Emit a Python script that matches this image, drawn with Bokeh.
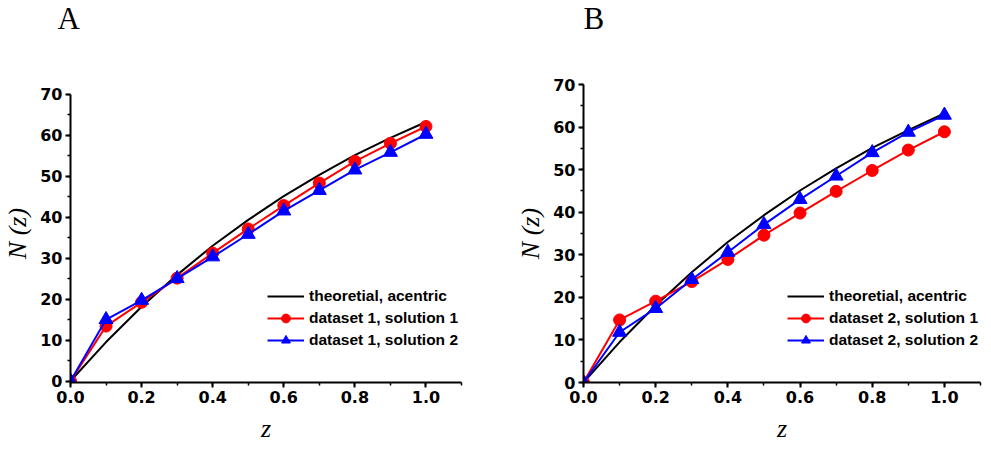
from bokeh.plotting import figure
from bokeh.layouts import row
from bokeh.models import (Range1d, SingleIntervalTicker, PrintfTickFormatter,
                          Legend, LegendItem)
from bokeh.embed import file_html
from bokeh.resources import INLINE

# ---- data ----
z = [0.0, 0.1, 0.2, 0.3, 0.4, 0.5, 0.6, 0.7, 0.8, 0.9, 1.0]
theory = [0.0, 9.5, 18.1, 25.9, 33.0, 39.3, 45.1, 50.3, 55.1, 59.3, 63.2]
a_sol1 = [0.0, 13.4, 19.2, 25.1, 31.2, 37.1, 42.8, 48.3, 53.6, 58.0, 62.1]
a_sol2 = [0.0, 15.0, 19.7, 25.0, 30.3, 35.8, 41.5, 46.5, 51.5, 55.8, 60.2]
b_sol1 = [0.0, 14.7, 19.1, 23.7, 28.9, 34.6, 39.8, 44.9, 49.8, 54.6, 58.9]
b_sol2 = [0.0, 11.8, 17.4, 24.2, 30.6, 37.1, 43.0, 48.5, 54.0, 58.8, 62.8]

legend_a = ["theoretial, acentric", "dataset 1, solution 1", "dataset 1, solution 2"]
legend_b = ["theoretial, acentric", "dataset 2, solution 1", "dataset 2, solution 2"]

X_MAX = 1.1
Y_MAX = 70


def make_panel(letter, s1, s2, labels, fw, mbl, mbr, yr, leg_loc, title_off):
    p = figure(frame_width=fw, frame_height=298,
               x_range=Range1d(0, X_MAX), y_range=Range1d(*yr),
               output_backend="svg", toolbar_location=None,
               min_border_left=mbl, min_border_right=mbr,
               min_border_top=83, min_border_bottom=60,
               background_fill_color="white", border_fill_color="white",
               outline_line_color=None)
    p.xgrid.visible = False
    p.ygrid.visible = False

    p.title.text = letter + "\n "
    p.title.text_font = "Liberation Serif"
    p.title.text_font_style = "normal"
    p.title.text_font_size = "31px"
    p.title.text_line_height = 1.35
    p.title.text_color = "black"
    p.title.align = "left"
    p.title.offset = title_off
    p.title.vertical_align = "top"
    p.title.standoff = 0

    p.xaxis.ticker = SingleIntervalTicker(interval=0.2, num_minor_ticks=2)
    p.xaxis.formatter = PrintfTickFormatter(format="%.1f")
    p.yaxis.ticker = SingleIntervalTicker(interval=10, num_minor_ticks=2)
    p.yaxis.bounds = (0, Y_MAX)

    for ax in (p.xaxis[0], p.yaxis[0]):
        ax.axis_line_width = 2
        ax.axis_line_color = "black"
        ax.major_tick_line_width = 2
        ax.minor_tick_line_width = 1.5
        ax.major_tick_out = 5
        ax.major_tick_in = 0
        ax.minor_tick_out = 3
        ax.minor_tick_in = 0
        ax.major_label_text_font = "DejaVu Sans"
        ax.major_label_text_font_style = "bold"
        ax.major_label_text_font_size = "16px"
        ax.major_label_text_color = "black"
        ax.major_label_standoff = 3
        ax.axis_label_text_font = "Liberation Serif"
        ax.axis_label_text_font_style = "italic"
        ax.axis_label_text_font_size = "26px"
        ax.axis_label_text_color = "black"
        ax.axis_label_standoff = 5
    p.xaxis.axis_label_standoff = 8
    p.xaxis.axis_label = "z"
    p.yaxis.axis_label = "N (z)"

    r_t = p.line(z, theory, line_color="black", line_width=2)
    r_1l = p.line(z, s1, line_color="#ff0000", line_width=2)
    r_1m = p.scatter(z, s1, marker="circle", size=12, fill_color="#ff0000",
                     line_color="#ff0000")
    r_2l = p.line(z, s2, line_color="#0000ff", line_width=2)
    r_2m = p.scatter(z, s2, marker="triangle", size=14, fill_color="#0000ff",
                     line_color="#0000ff")

    legend = Legend(items=[
        LegendItem(label=labels[0], renderers=[r_t]),
        LegendItem(label=labels[1], renderers=[r_1l, r_1m]),
        LegendItem(label=labels[2], renderers=[r_2l, r_2m]),
    ], location=leg_loc)
    legend.label_text_font = "Liberation Sans"
    legend.label_text_font_style = "bold"
    legend.label_text_font_size = "15.5px"
    legend.label_text_color = "black"
    legend.label_standoff = 5
    legend.glyph_width = 37
    legend.glyph_height = 22
    legend.label_height = 22
    legend.spacing = 0
    legend.padding = 0
    legend.margin = 0
    legend.border_line_color = None
    legend.background_fill_alpha = 0
    p.add_layout(legend)
    return p


pA = make_panel("A", a_sol1, a_sol2, legend_a, 391, 62, 52, (-0.36, 72.34),
                (197, 31), -13)
pB = make_panel("B", b_sol1, b_sol2, legend_b, 397, 66, 2, (0, 70),
                (204, 31), 0)

layout = row(pA, pB)
open("out.html", "w").write(file_html(layout, INLINE))
